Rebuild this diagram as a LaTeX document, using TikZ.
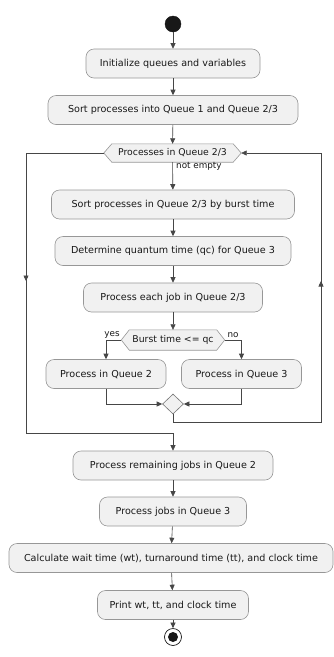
\documentclass[tikz,border=0pt]{standalone}
\usepackage{fontspec}
\setmainfont{DejaVu Sans}
\usetikzlibrary{arrows.meta,shapes.geometric,calc,backgrounds}
\definecolor{boxfill}{HTML}{F1F1F1}
\definecolor{lin}{HTML}{181818}
\begin{document}
\begin{tikzpicture}[x=1pt,y=-1pt,
  act/.style={draw=lin!45, fill=boxfill, rounded corners=8pt, line width=0.6pt,
    minimum height=29pt, inner sep=0pt, font=\fontsize{9.6}{11}\selectfont, text=lin},
  hexn/.style={rectangle, inner sep=0pt, font=\fontsize{9.3}{11}\selectfont, text=lin},
  hexline/.style={draw=lin!45, fill=boxfill, line width=0.6pt},
  flow/.style={draw=lin!80, line width=0.6pt, -{Triangle[length=5.5pt,width=5pt]}},
  plain/.style={draw=lin!80, line width=0.6pt},
  lab/.style={font=\fontsize{8.8}{10}\selectfont, inner sep=1pt, text=lin},
  startc/.style={circle, fill=lin, draw=lin, minimum size=16pt, inner sep=0pt},
  endc/.style={circle, draw=lin, fill=white, line width=0.7pt, minimum size=17pt, inner sep=0pt,
    path picture={\fill[lin] (path picture bounding box.center) circle (5pt);}}]
\begin{scope}[on background layer]
  \fill[white] (0,0) rectangle (334,657);
\end{scope}
\useasboundingbox (0,0) rectangle (334,657);

\node[startc] (st) at (173,24) {};
\node[act, minimum width=174pt] (b1) at (173,63.5) {Initialize queues and variables};
\node[act, minimum width=250pt] (b2) at (173,110) {Sort processes into Queue 1 and Queue 2/3};
\node[hexn, minimum width=121pt, minimum height=18pt] (h1) at (172.5,153) {Processes in Queue 2/3};
\node[act, minimum width=243pt] (b3) at (173,204.5) {Sort processes in Queue 2/3 by burst time};
\node[act, minimum width=236pt] (b4) at (173,251) {Determine quantum time (qc) for Queue 3};
\node[act, minimum width=179pt] (b5) at (173,297.5) {Process each job in Queue 2/3};
\node[hexn, minimum width=87pt, minimum height=20pt] (h2) at (173,340) {Burst time <= qc};
\node[act, minimum width=120pt] (q2) at (106,374) {Process in Queue 2};
\node[act, minimum width=120pt] (q3) at (241.5,374) {Process in Queue 3};
\node[diamond, draw=lin!60, fill=boxfill, line width=0.6pt, minimum width=21pt, minimum height=20pt, inner sep=0pt] (m) at (173,404) {};
\node[act, minimum width=200pt] (b6) at (173,465.5) {Process remaining jobs in Queue 2};
\node[act, minimum width=147pt] (b7) at (173,511.5) {Process jobs in Queue 3};
\node[act, minimum width=324pt] (b8) at (171,558) {Calculate wait time (wt), turnaround time (tt), and clock time};
\node[act, minimum width=151pt] (b9) at (173,605) {Print wt, tt, and clock time};
\node[endc] (en) at (173,637) {};

% hexagon outlines
\coordinate (h1l) at ($(h1.west)+(-8,0)$);
\coordinate (h1r) at ($(h1.east)+(8,0)$);
\coordinate (h2l) at ($(h2.west)+(-8,0)$);
\coordinate (h2r) at ($(h2.east)+(8,0)$);
\begin{scope}[on background layer]
  \draw[hexline] (h1l) -- (h1.north west) -- (h1.north east) -- (h1r) -- (h1.south east) -- (h1.south west) -- cycle;
  \draw[hexline] (h2l) -- (h2.north west) -- (h2.north east) -- (h2r) -- (h2.south east) -- (h2.south west) -- cycle;
\end{scope}

% labels
\node[lab, anchor=west] (ne) at (175,166) {not empty};
\node[lab] (yes) at (112,335) {yes};
\node[lab] (no) at (233,335) {no};

% loop coordinates
\coordinate (lt) at (26,153);
\coordinate (lb) at (26,433);
\coordinate (lm) at (173,433);
\coordinate (la1) at (26,270);
\coordinate (la2) at (26,281);
\coordinate (rb) at (321,422);
\coordinate (rt) at (321,153);
\coordinate (ra1) at (321,292);
\coordinate (ra2) at (321,281);

% straight flow
\draw[flow] (st) -- (b1);
\draw[flow] (b1) -- (b2);
\draw[flow] (b2) -- (h1);
\draw[flow] (h1) -- (b3);
\draw[flow] (b3) -- (b4);
\draw[flow] (b4) -- (b5);
\draw[flow] (b5) -- (h2);
\draw[flow] (h2l) -| (q2);
\draw[flow] (h2r) -| (q3);
\draw[flow] (q2) |- (m);
\draw[flow] (q3) |- (m);
\draw[flow] (m.south) |- (rb) -- (rt) -- (h1r);
\draw[flow] (ra1) -- (ra2);
\draw[plain] (h1l) -- (lt) -- (lb) -- (lm);
\draw[flow] (la1) -- (la2);
\draw[flow] (lm) -- (b6);
\draw[flow] (b6) -- (b7);
\draw[flow] (b7) -- (b8);
\draw[flow] (b8) -- (b9);
\draw[flow] (b9) -- (en);
\end{tikzpicture}
\end{document}
